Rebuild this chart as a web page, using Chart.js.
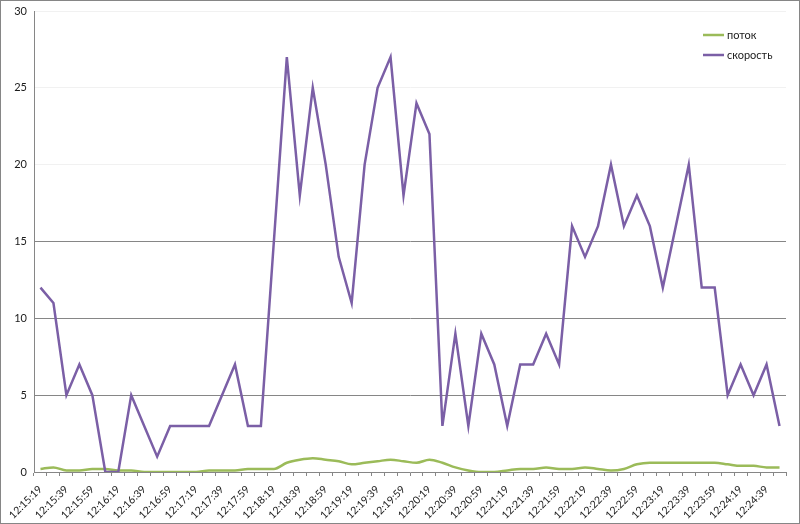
<!DOCTYPE html>
<html>
<head>
<meta charset="utf-8">
<script src="https://cdn.jsdelivr.net/npm/chart.js@4"></script>
<style>
  html, body { margin: 0; padding: 0; background: #fff; }
  #wrap { width: 798px; height: 522px; border: 1px solid #868686; }
</style>
</head>
<body>
<div id="wrap"><canvas id="chart" width="798" height="522"></canvas></div>
<script>
const times = [
  '12:15:19', '12:15:29', '12:15:39', '12:15:49', '12:15:59', '12:16:09', '12:16:19', '12:16:29',
  '12:16:39', '12:16:49', '12:16:59', '12:17:09', '12:17:19', '12:17:29', '12:17:39', '12:17:49',
  '12:17:59', '12:18:09', '12:18:19', '12:18:29', '12:18:39', '12:18:49', '12:18:59', '12:19:09',
  '12:19:19', '12:19:29', '12:19:39', '12:19:49', '12:19:59', '12:20:09', '12:20:19', '12:20:29',
  '12:20:39', '12:20:49', '12:20:59', '12:21:09', '12:21:19', '12:21:29', '12:21:39', '12:21:49',
  '12:21:59', '12:22:09', '12:22:19', '12:22:29', '12:22:39', '12:22:49', '12:22:59', '12:23:09',
  '12:23:19', '12:23:29', '12:23:39', '12:23:49', '12:23:59', '12:24:09', '12:24:19', '12:24:29',
  '12:24:39', '12:24:49'
];

// поток
const flow = [
  0.2, 0.3, 0.1, 0.1, 0.2, 0.2, 0.1, 0.1, 0, 0,
  0, 0, 0, 0.1, 0.1, 0.1, 0.2, 0.2, 0.2, 0.6,
  0.8, 0.9, 0.8, 0.7, 0.5, 0.6, 0.7, 0.8, 0.7, 0.6,
  0.8, 0.6, 0.3, 0.1, 0, 0, 0.1, 0.2, 0.2, 0.3,
  0.2, 0.2, 0.3, 0.2, 0.1, 0.2, 0.5, 0.6, 0.6, 0.6,
  0.6, 0.6, 0.6, 0.5, 0.4, 0.4, 0.3, 0.3
];

// скорость
const speed = [
  12, 11, 5, 7, 5, 0, 0, 5, 3, 1,
  3, 3, 3, 3, 5, 7, 3, 3, 15, 27,
  18, 25, 20, 14, 11, 20, 25, 27, 18, 24,
  22, 3, 9, 3, 9, 7, 3, 7, 7, 9,
  7, 16, 14, 16, 20, 16, 18, 16, 12, 16,
  20, 12, 12, 5, 7, 5, 7, 3
];

const yMin = 0;
const yMax = 30;
const yStep = 5;

const axisGray = '#868686';
const textColor = '#1a1a1a';
const fontFamily = 'Lato, "Open Sans", sans-serif';

// legend in the top right corner of the plot, like the original
const cornerLegend = {
  id: 'cornerLegend',
  afterDraw(chart) {
    const c = chart.ctx;
    const sets = chart.data.datasets;
    c.save();
    c.font = '11px ' + fontFamily;
    c.textBaseline = 'middle';
    sets.forEach((ds, i) => {
      const y = 34 + i * 20;
      c.strokeStyle = ds.borderColor;
      c.lineWidth = 2.5;
      c.beginPath();
      c.moveTo(702, y);
      c.lineTo(723, y);
      c.stroke();
      c.fillStyle = textColor;
      c.fillText(ds.label, 726, y);
    });
    c.restore();
  }
};

new Chart(document.getElementById('chart'), {
  type: 'line',
  data: {
    labels: times,
    datasets: [
      {
        label: 'поток',
        data: flow,
        borderColor: '#9BBB59',
        borderWidth: 2.5,
        pointRadius: 0,
        cubicInterpolationMode: 'monotone',
        order: 1
      },
      {
        label: 'скорость',
        data: speed,
        borderColor: '#7B5FA6',
        borderWidth: 2.5,
        pointRadius: 0,
        tension: 0,
        order: 0
      }
    ]
  },
  options: {
    responsive: false,
    animation: false,
    layout: { padding: { top: 10, right: 13, left: 0, bottom: 0 } },
    plugins: {
      legend: { display: false },
      tooltip: { enabled: false }
    },
    scales: {
      x: {
        offset: true,
        grid: {
          offset: true,
          drawOnChartArea: false,
          drawTicks: true,
          tickLength: 4,
          color: axisGray
        },
        border: { color: axisGray, width: 1 },
        ticks: {
          autoSkip: false,
          minRotation: 45,
          maxRotation: 45,
          padding: 7,
          color: textColor,
          font: { family: fontFamily, size: 10.5 },
          callback: (v, i) => (i % 2 === 0 ? times[i] : '')
        },
        afterFit(scale) {
          scale.height = 51;
          scale.paddingLeft = 0;
          scale.paddingRight = 0;
        }
      },
      y: {
        min: yMin,
        max: yMax,
        grid: {
          drawTicks: false,
          color: (ctx) => {
            const v = ctx.tick.value;
            if (v === 0) return 'rgba(0,0,0,0)';
            return v <= 15 ? axisGray : '#f1f1f1';
          }
        },
        border: { color: axisGray, width: 1 },
        ticks: {
          stepSize: yStep,
          padding: 7,
          color: textColor,
          font: { family: fontFamily, size: 11 }
        },
        afterFit(scale) {
          scale.width = 33;
          scale.paddingTop = 0;
          scale.paddingBottom = 0;
        }
      }
    }
  },
  plugins: [cornerLegend]
});
</script>
</body>
</html>
